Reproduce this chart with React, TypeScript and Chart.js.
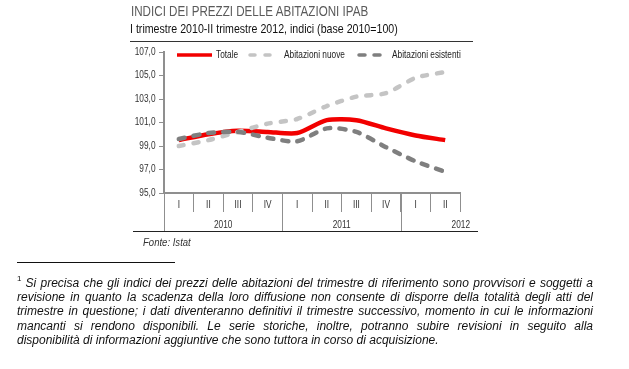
import React, { useEffect, useRef } from "react";
import { Chart, registerables } from "chart.js";

Chart.register(...registerables);

const quarters = ["I", "II", "III", "IV", "I", "II", "III", "IV", "I", "II"];
const years = ["2010", "2011", "2012"];
const yearStarts = [0, 4, 8];
const yTicks = [95, 97, 99, 101, 103, 105, 107];
const totale = [99.5, 100.0, 100.3, 100.2, 100.1, 101.2, 101.2, 100.5, 99.9, 99.5];
const nuove = [99.0, 99.5, 100.2, 100.9, 101.3, 102.4, 103.2, 103.5, 104.8, 105.3];
const esistenti = [99.6, 100.1, 100.2, 99.7, 99.4, 100.5, 100.2, 98.9, 97.7, 96.8];
const seriesNames = ["Totale", "Abitazioni nuove", "Abitazioni esistenti"];

const FONT = '"Liberation Sans", Arial, sans-serif';
const SQ = 0.83; // horizontal squeeze of the chart text
const RED = "#f20000";
const LIGHT = "#c4c4c4";
const DARK = "#7f7f7f";
const AXIS = "#8f8f8f";
const TXT = "#333";
const LIGHT_DASH = [5, 10];
const DARK_DASH = [6, 9];

const footLines = [
  "Si precisa che gli indici dei prezzi delle abitazioni del trimestre di riferimento sono provvisori e soggetti a",
  "revisione in quanto la scadenza della loro diffusione non consente di disporre della totalità degli atti del",
  "trimestre in questione; i dati diventeranno definitivi il trimestre successivo, momento in cui le informazioni",
  "mancanti si rendono disponibili. Le serie storiche, inoltre, potranno subire revisioni in seguito alla",
  "disponibilità di informazioni aggiuntive che sono tuttora in corso di acquisizione.",
];

function narrowText(ctx: any, text: string, x: number, y: number, align: string) {
  ctx.save();
  ctx.translate(x, y);
  ctx.scale(SQ, 1);
  ctx.textAlign = align;
  ctx.fillText(text, 0, 0);
  ctx.restore();
}

const extrasPlugin = {
  id: "extras",
  afterDraw(chart: any) {
    const ctx = chart.ctx;
    const x = chart.scales.x;
    const y = chart.scales.y;
    const area = chart.chartArea;
    const half = (x.getPixelForValue(1) - x.getPixelForValue(0)) / 2;
    ctx.save();
    ctx.textBaseline = "middle";
    ctx.fillStyle = TXT;
    ctx.font = "10px " + FONT;
    yTicks.forEach((v) => {
      narrowText(ctx, v.toFixed(1).replace(".", ","), 155.5, y.getPixelForValue(v), "right");
    });
    quarters.forEach((q, i) => {
      narrowText(ctx, q, x.getPixelForValue(i), area.bottom + 12, "center");
    });
    ctx.strokeStyle = AXIS;
    ctx.lineWidth = 1;
    yearStarts.forEach((s) => {
      const px = Math.round(x.getPixelForValue(s) - half) + 0.5;
      ctx.beginPath();
      ctx.moveTo(px, area.bottom);
      ctx.lineTo(px, area.bottom + 38);
      ctx.stroke();
    });
    ctx.strokeStyle = "#222";
    ctx.beginPath();
    ctx.moveTo(133, area.bottom + 38.5);
    ctx.lineTo(478, area.bottom + 38.5);
    ctx.stroke();
    years.forEach((yr, i) => {
      const start = yearStarts[i];
      const end = i + 1 < yearStarts.length ? yearStarts[i + 1] : quarters.length;
      const left = x.getPixelForValue(start) - half;
      const right = x.getPixelForValue(end - 1) + half;
      if (i === years.length - 1) {
        narrowText(ctx, yr, right + 10, area.bottom + 32, "right");
      } else {
        narrowText(ctx, yr, (left + right) / 2, area.bottom + 32, "center");
      }
    });
    const items = [
      { label: seriesNames[0], color: RED, dash: [], cap: "butt", x0: 177, x1: 212 },
      { label: seriesNames[1], color: LIGHT, dash: LIGHT_DASH, cap: "round", x0: 250, x1: 280 },
      { label: seriesNames[2], color: DARK, dash: DARK_DASH, cap: "round", x0: 359, x1: 388 },
    ];
    const ly = area.top + 3;
    ctx.fillStyle = "#222";
    items.forEach((it) => {
      ctx.strokeStyle = it.color;
      ctx.lineWidth = 3.5;
      ctx.lineCap = it.cap;
      ctx.setLineDash(it.dash);
      ctx.beginPath();
      ctx.moveTo(it.x0, ly);
      ctx.lineTo(it.x1, ly);
      ctx.stroke();
      ctx.setLineDash([]);
      narrowText(ctx, it.label, it.x1 + 4, ly, "left");
    });
    ctx.restore();
  },
};

export default function App() {
  const ref = useRef<HTMLCanvasElement>(null);
  useEffect(() => {
    const chart = new Chart(ref.current!, {
      type: "line",
      data: {
        labels: quarters,
        datasets: [
          { label: seriesNames[0], data: totale, borderColor: RED, borderWidth: 4.5, pointRadius: 0, tension: 0.25, order: 2 },
          { label: seriesNames[1], data: nuove, borderColor: LIGHT, borderWidth: 4.5, borderDash: LIGHT_DASH, borderCapStyle: "round", pointRadius: 0, tension: 0.25, order: 1 },
          { label: seriesNames[2], data: esistenti, borderColor: DARK, borderWidth: 4.5, borderDash: DARK_DASH, borderCapStyle: "round", pointRadius: 0, tension: 0.25, order: 0 },
        ],
      },
      options: {
        animation: false,
        responsive: false,
        layout: { padding: { left: 120, top: 52, right: 169, bottom: 136 } },
        plugins: { legend: { display: false }, tooltip: { enabled: false } },
        scales: {
          x: {
            offset: true,
            afterFit: (s: any) => { s.height = 40; },
            grid: { offset: true, drawOnChartArea: false, tickLength: 19, color: AXIS, lineWidth: 1 },
            border: { color: AXIS, width: 2 },
            ticks: { display: false, autoSkip: false },
          },
          y: {
            min: 95,
            max: 107,
            afterFit: (s: any) => { s.width = 44; },
            grid: { drawOnChartArea: false, tickLength: 5, color: AXIS },
            border: { color: AXIS, width: 2 },
            ticks: { stepSize: 2, display: false },
          },
        },
      },
      plugins: [extrasPlugin],
    });
    return () => chart.destroy();
  }, []);

  const narrow = (extra: any) => ({ position: "absolute" as const, transform: `scaleX(${SQ})`, transformOrigin: "0 0", whiteSpace: "nowrap" as const, ...extra });

  return (
    <div style={{ position: "absolute", left: 0, top: 0, width: 629, height: 369, fontFamily: FONT }}>
      <canvas ref={ref} width={629} height={369} style={{ position: "absolute", left: 0, top: 0 }} />
      <div style={narrow({ left: 131, top: 3, fontSize: 14, color: "#5a5a5a", lineHeight: "16px" })}>
        INDICI DEI PREZZI DELLE ABITAZIONI IPAB
      </div>
      <div style={narrow({ left: 130, top: 21, fontSize: 12.8, color: "#111", lineHeight: "15px" })}>
        I trimestre 2010-II trimestre 2012, indici (base 2010=100)
      </div>
      <div style={{ position: "absolute", left: 130, top: 41, width: 343, height: 1, background: "#333" }} />
      <div style={narrow({ left: 143, top: 235, fontSize: 11.5, fontStyle: "italic", color: TXT, lineHeight: "14px" })}>
        Fonte: Istat
      </div>
      <div style={{ position: "absolute", left: 17, top: 262, width: 158, height: 1, background: "#111" }} />
      <div style={{ position: "absolute", left: 17, top: 276, width: 576, fontSize: 12, fontStyle: "italic", color: "#111", lineHeight: "14.2px" }}>
        {footLines.map((l, i) => {
          const last = i === footLines.length - 1;
          return (
            <div key={i} style={{ display: "flex" }}>
              {i === 0 ? <span style={{ fontSize: 8, position: "relative", top: -4, marginRight: 4, fontStyle: "normal" }}>1</span> : null}
              <span style={{ flex: 1, textAlign: last ? "left" : "justify", textAlignLast: last ? "left" : "justify" }}>{l}</span>
            </div>
          );
        })}
      </div>
    </div>
  );
}
